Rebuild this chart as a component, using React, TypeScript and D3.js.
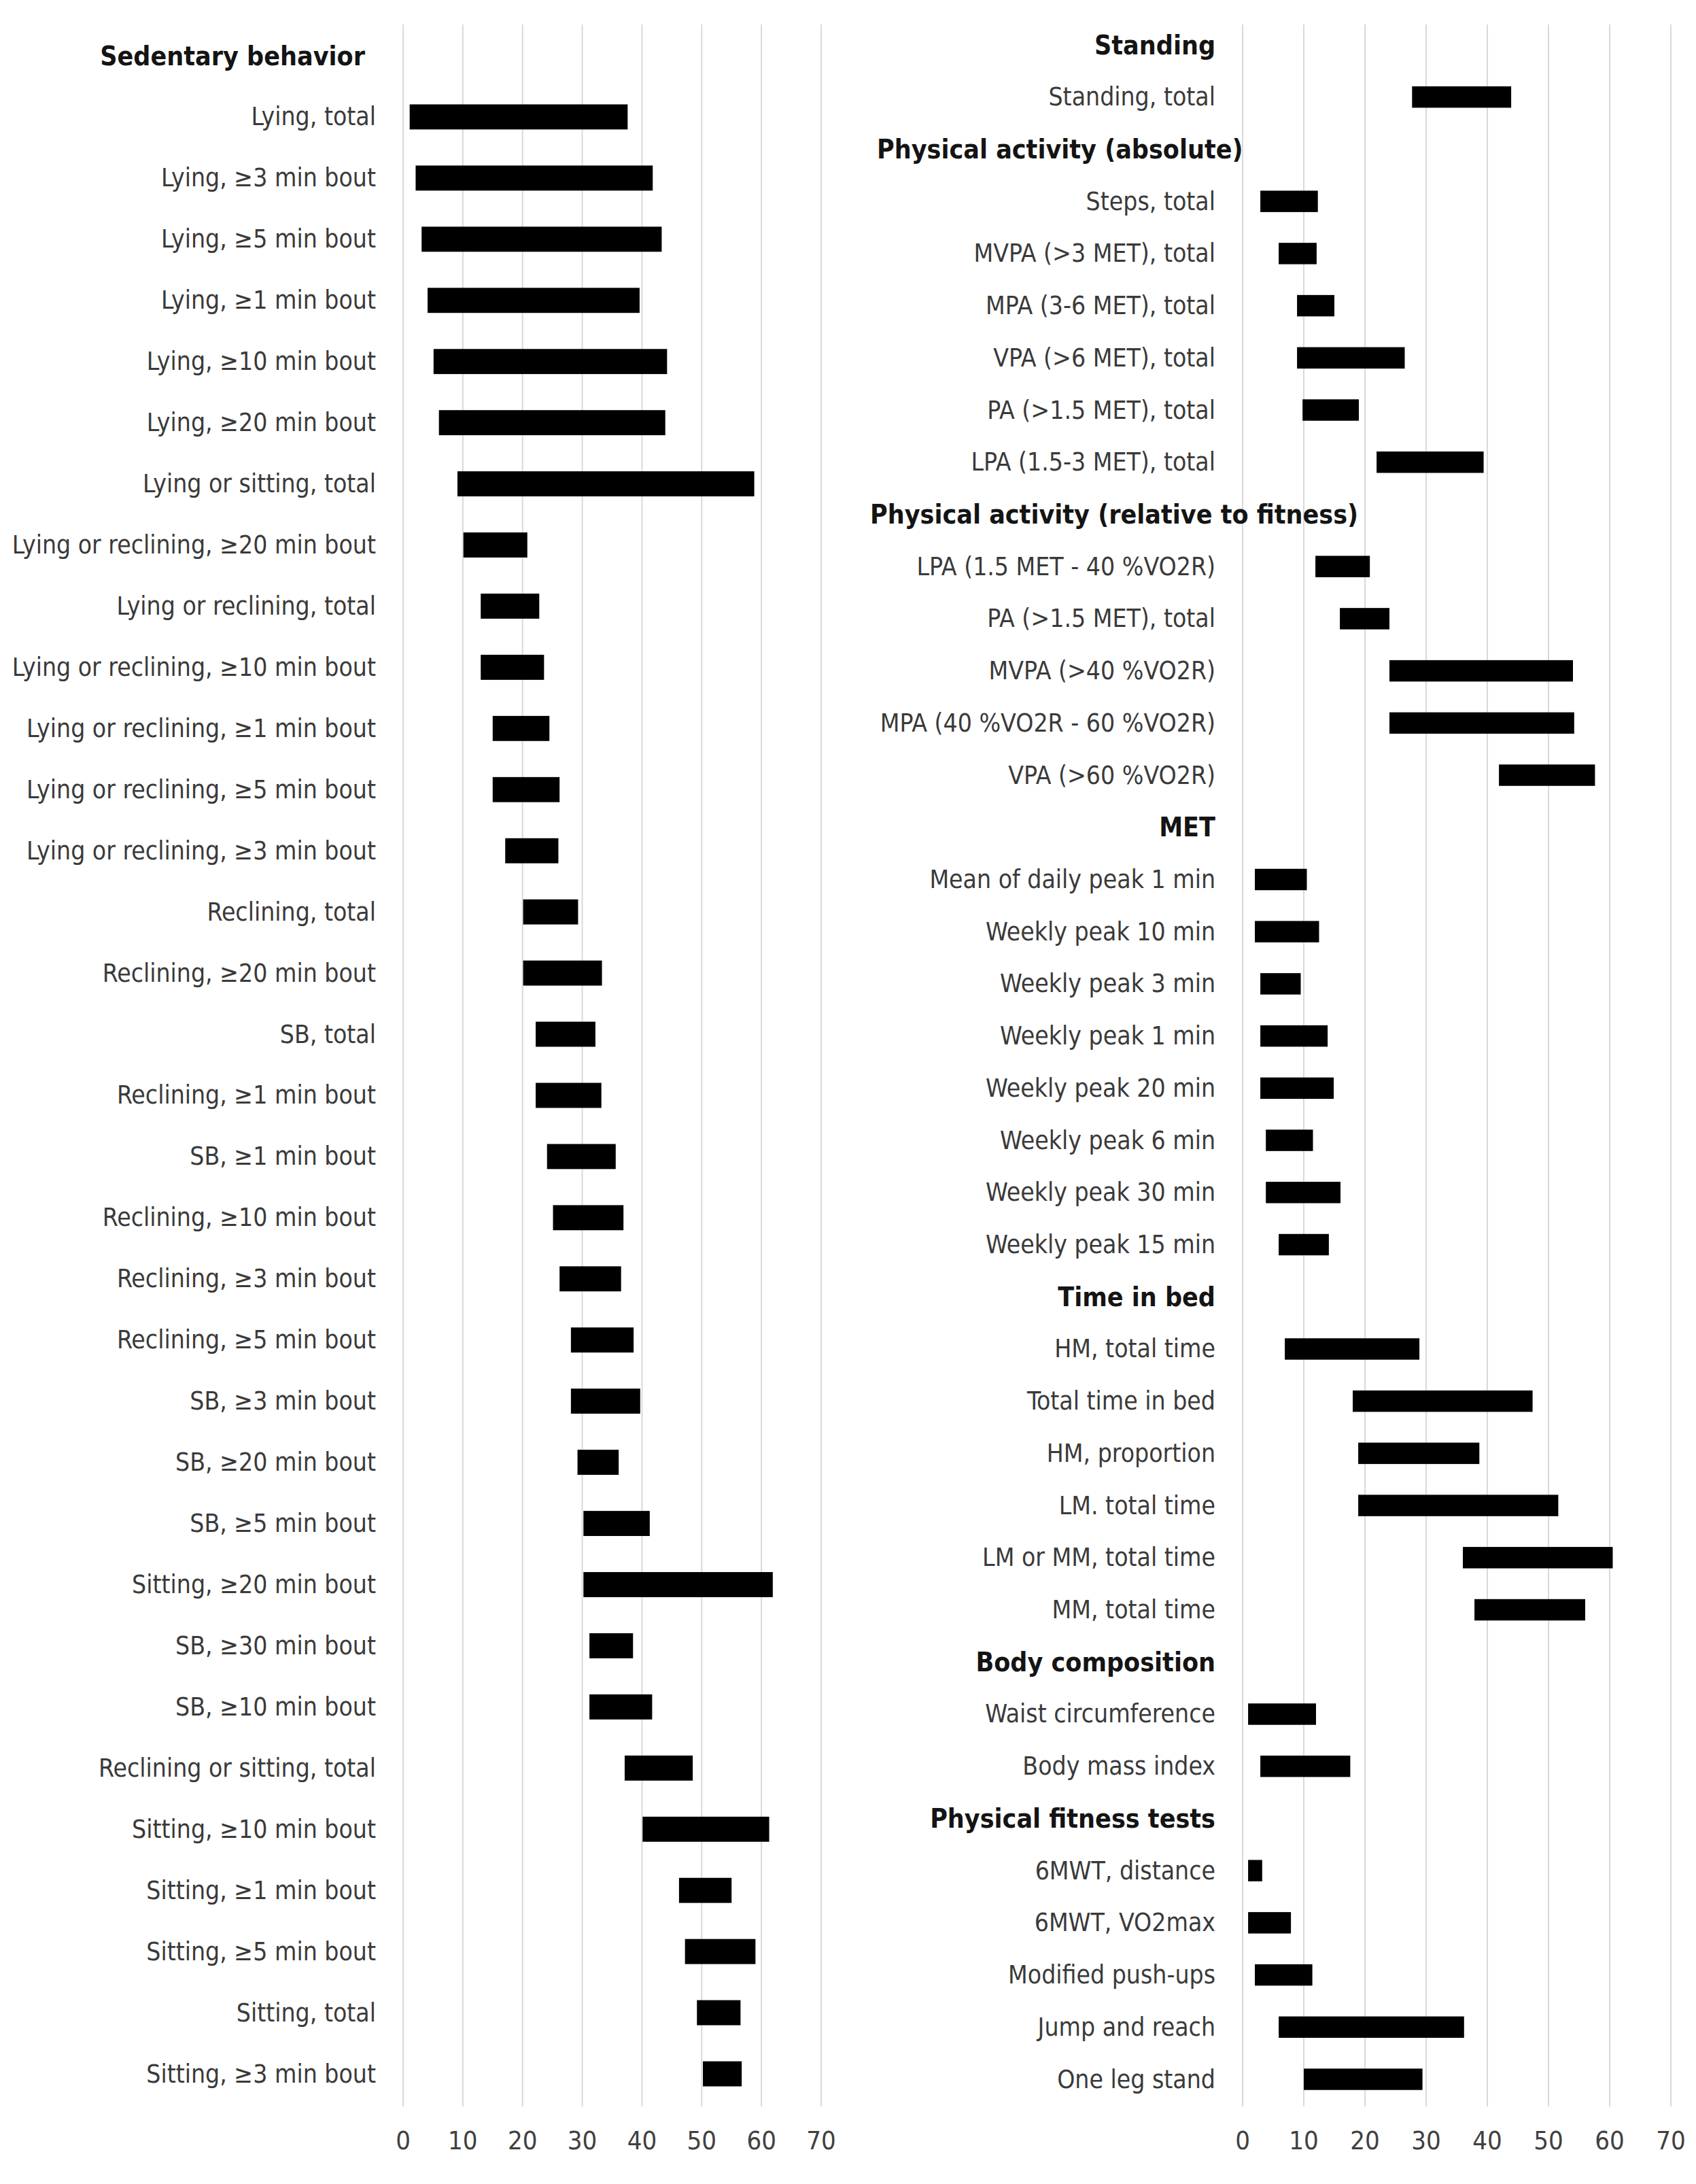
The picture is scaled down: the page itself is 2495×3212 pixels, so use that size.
import * as d3 from "d3";

const W = 2495;
const H = 3212;

// ---- left panel: sedentary behavior ----
const SED_HEADER = "Sedentary behavior";
const SED_LABELS = [
  "Lying, total",
  "Lying, ≥3 min bout",
  "Lying, ≥5 min bout",
  "Lying, ≥1 min bout",
  "Lying, ≥10 min bout",
  "Lying, ≥20 min bout",
  "Lying or sitting, total",
  "Lying or reclining, ≥20 min bout",
  "Lying or reclining, total",
  "Lying or reclining, ≥10 min bout",
  "Lying or reclining, ≥1 min bout",
  "Lying or reclining, ≥5 min bout",
  "Lying or reclining, ≥3 min bout",
  "Reclining, total",
  "Reclining, ≥20 min bout",
  "SB, total",
  "Reclining, ≥1 min bout",
  "SB, ≥1 min bout",
  "Reclining, ≥10 min bout",
  "Reclining, ≥3 min bout",
  "Reclining, ≥5 min bout",
  "SB, ≥3 min bout",
  "SB, ≥20 min bout",
  "SB, ≥5 min bout",
  "Sitting, ≥20 min bout",
  "SB, ≥30 min bout",
  "SB, ≥10 min bout",
  "Reclining or sitting, total",
  "Sitting, ≥10 min bout",
  "Sitting, ≥1 min bout",
  "Sitting, ≥5 min bout",
  "Sitting, total",
  "Sitting, ≥3 min bout",
];
const SED_LOW = [
  1.1, 2.1, 3.1, 4.1, 5.1, 6.0, 9.1, 10.1, 13.0, 13.0, 15.0, 15.0, 17.1, 20.1,
  20.1, 22.2, 22.2, 24.1, 25.1, 26.2, 28.1, 28.1, 29.2, 30.2, 30.2, 31.2, 31.2,
  37.1, 40.1, 46.2, 47.2, 49.2, 50.2,
];
const SED_HIGH = [
  37.6, 41.8, 43.3, 39.6, 44.2, 43.9, 58.8, 20.8, 22.8, 23.6, 24.5, 26.2, 26.0,
  29.3, 33.3, 32.2, 33.2, 35.6, 36.9, 36.5, 38.6, 39.7, 36.1, 41.3, 61.9, 38.5,
  41.7, 48.5, 61.3, 55.0, 59.0, 56.5, 56.7,
];

// ---- right panel: sections ----
const STANDING_LABELS = ["Standing, total"];
const STANDING_LOW = [27.7];
const STANDING_HIGH = [43.9];

const PA_ABS_LABELS = [
  "Steps, total",
  "MVPA (>3 MET), total",
  "MPA (3-6 MET), total",
  "VPA (>6 MET), total",
  "PA (>1.5 MET), total",
  "LPA (1.5-3 MET), total",
];
const PA_ABS_LOW = [2.9, 5.9, 8.9, 8.9, 9.8, 21.9];
const PA_ABS_HIGH = [12.3, 12.1, 15.0, 26.5, 19.0, 39.4];

const PA_REL_LABELS = [
  "LPA (1.5 MET - 40 %VO2R)",
  "PA (>1.5 MET), total",
  "MVPA (>40 %VO2R)",
  "MPA (40 %VO2R - 60 %VO2R)",
  "VPA (>60 %VO2R)",
];
const PA_REL_LOW = [11.9, 15.9, 24.0, 24.0, 41.9];
const PA_REL_HIGH = [20.8, 24.0, 54.0, 54.2, 57.6];

const MET_LABELS = [
  "Mean of daily peak 1 min",
  "Weekly peak 10 min",
  "Weekly peak 3 min",
  "Weekly peak 1 min",
  "Weekly peak 20 min",
  "Weekly peak 6 min",
  "Weekly peak 30 min",
  "Weekly peak 15 min",
];
const MET_LOW = [2.0, 2.0, 2.9, 2.9, 2.9, 3.8, 3.8, 5.9];
const MET_HIGH = [10.5, 12.5, 9.5, 13.9, 14.9, 11.5, 16.0, 14.1];

const BED_LABELS = [
  "HM, total time",
  "Total time in bed",
  "HM, proportion",
  "LM. total time",
  "LM or MM, total time",
  "MM, total time",
];
const BED_LOW = [6.9, 18.0, 18.9, 18.9, 36.0, 37.9];
const BED_HIGH = [28.9, 47.4, 38.7, 51.6, 60.5, 56.0];

const BODY_LABELS = ["Waist circumference", "Body mass index"];
const BODY_LOW = [0.9, 2.9];
const BODY_HIGH = [12.0, 17.6];

const FIT_LABELS = [
  "6MWT, distance",
  "6MWT, VO2max",
  "Modified push-ups",
  "Jump and reach",
  "One leg stand",
];
const FIT_LOW = [0.9, 0.9, 2.0, 5.9, 10.0];
const FIT_HIGH = [3.2, 7.9, 11.4, 36.2, 29.4];

const X_TICKS = [0, 10, 20, 30, 40, 50, 60, 70];

type Row =
  | { kind: "header"; text: string }
  | { kind: "bar"; text: string; low: number; high: number };

function section(header: string, labels: string[], low: number[], high: number[]): Row[] {
  return [
    { kind: "header", text: header },
    ...labels.map((t, i) => ({ kind: "bar" as const, text: t, low: low[i], high: high[i] })),
  ];
}

const leftRows: Row[] = section(SED_HEADER, SED_LABELS, SED_LOW, SED_HIGH);
const rightRows: Row[] = [
  ...section("Standing", STANDING_LABELS, STANDING_LOW, STANDING_HIGH),
  ...section("Physical activity (absolute)", PA_ABS_LABELS, PA_ABS_LOW, PA_ABS_HIGH),
  ...section("Physical activity (relative to fitness)", PA_REL_LABELS, PA_REL_LOW, PA_REL_HIGH),
  ...section("MET", MET_LABELS, MET_LOW, MET_HIGH),
  ...section("Time in bed", BED_LABELS, BED_LOW, BED_HIGH),
  ...section("Body composition", BODY_LABELS, BODY_LOW, BODY_HIGH),
  ...section("Physical fitness tests", FIT_LABELS, FIT_LOW, FIT_HIGH),
];

const FONT = "'Liberation Sans Narrow', 'DejaVu Sans Condensed', 'Liberation Sans', sans-serif";
const LABEL_SIZE = 37;
const TICK_SIZE = 38;
const HEADER_SIZE = 39;
const GRID_TOP = 36;
const GRID_BOTTOM = 3098;
const TICK_Y = 3148;

// the two long "Physical activity" headers are left-anchored in the original
const HEADER_START: Record<string, number> = {
  "Physical activity (absolute)": 1290,
  "Physical activity (relative to fitness)": 1280,
};

function Panel({
  rows,
  xRange,
  yRange,
  labelRight,
  headerRight,
}: {
  rows: Row[];
  xRange: [number, number];
  yRange: [number, number];
  labelRight: number;
  headerRight: number;
}) {
  const x = d3.scaleLinear().domain([0, 70]).range(xRange);
  const y = d3
    .scalePoint<number>()
    .domain(d3.range(rows.length))
    .range(yRange);
  const barH = y.step() * 0.41;

  return (
    <g>
      {X_TICKS.map((t) => (
        <g key={t}>
          <line
            x1={x(t)}
            x2={x(t)}
            y1={GRID_TOP}
            y2={GRID_BOTTOM}
            stroke="#d9d9d9"
            strokeWidth={2}
          />
          <text
            x={x(t)}
            y={TICK_Y}
            textAnchor="middle"
            dominantBaseline="central"
            fontSize={TICK_SIZE}
            fill="#404040"
          >
            {t}
          </text>
        </g>
      ))}
      {rows.map((r, i) => {
        const cy = y(i) as number;
        if (r.kind === "header") {
          const start = HEADER_START[r.text];
          return (
            <text
              key={i}
              x={start ?? headerRight}
              y={cy}
              textAnchor={start ? "start" : "end"}
              dominantBaseline="central"
              fontSize={HEADER_SIZE}
              fontWeight="bold"
              fill="#141414"
            >
              {r.text}
            </text>
          );
        }
        return (
          <g key={i}>
            <text
              x={labelRight}
              y={cy}
              textAnchor="end"
              dominantBaseline="central"
              fontSize={LABEL_SIZE}
              fill="#3a3a3a"
            >
              {r.text}
            </text>
            <rect
              x={x(r.low)}
              y={cy - barH / 2}
              width={x(r.high) - x(r.low)}
              height={barH}
              fill="#000"
            />
          </g>
        );
      })}
    </g>
  );
}

export default function App() {
  return (
    <svg
      width={W}
      height={H}
      viewBox={`0 0 ${W} ${H}`}
      style={{ position: "absolute", left: 0, top: 0, background: "#fff" }}
      fontFamily={FONT}
    >
      <rect width={W} height={H} fill="#fff" />
      <Panel
        rows={leftRows}
        xRange={[593, 1208]}
        yRange={[82, 3050]}
        labelRight={553}
        headerRight={537}
      />
      <Panel
        rows={rightRows}
        xRange={[1828, 2458]}
        yRange={[66, 3058]}
        labelRight={1788}
        headerRight={1788}
      />
    </svg>
  );
}
